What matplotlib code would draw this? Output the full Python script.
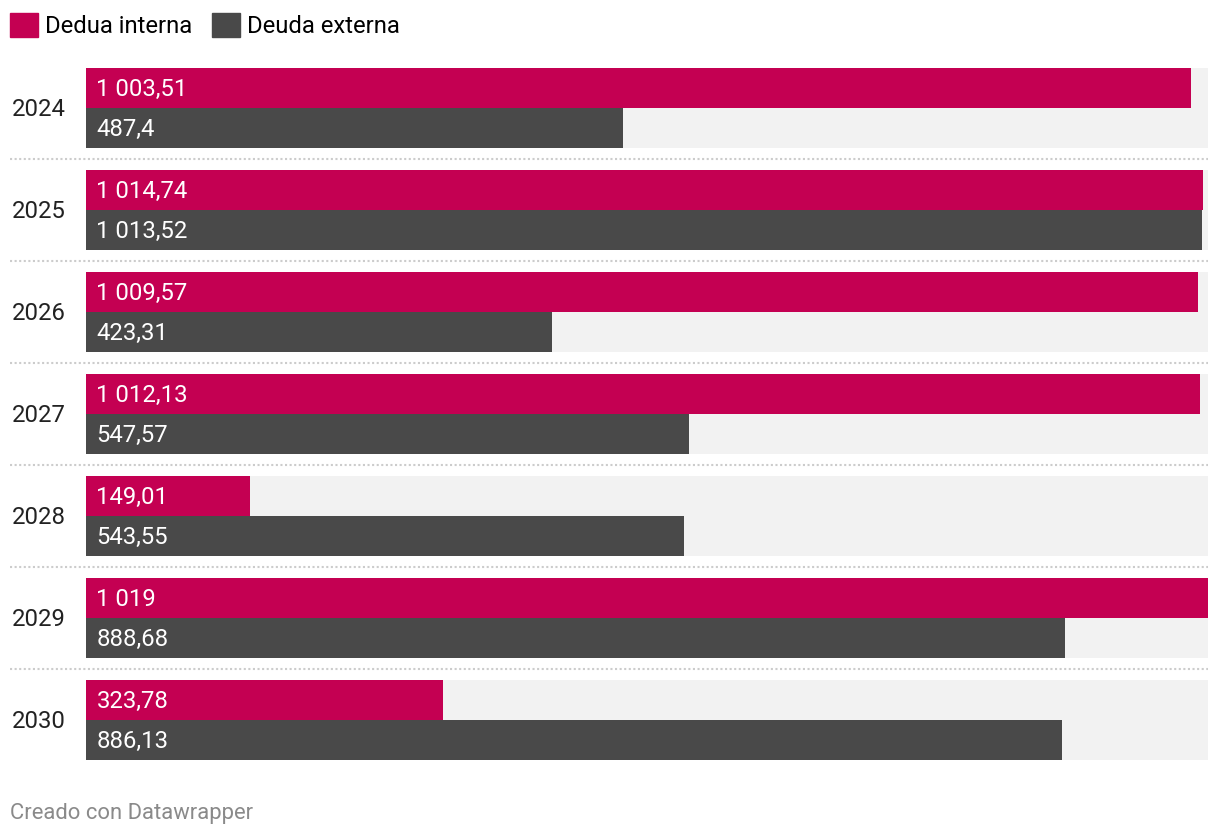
import matplotlib.pyplot as plt
from matplotlib.patches import Patch
import matplotlib.transforms as mtransforms

plt.rcParams['font.family'] = ['Roboto', 'DejaVu Sans']

years = ['2024', '2025', '2026', '2027', '2028', '2029', '2030']
interna = [1003.51, 1014.74, 1009.57, 1012.13, 149.01, 1019, 323.78]
externa = [487.4, 1013.52, 423.31, 547.57, 543.55, 888.68, 886.13]
labels = ['Dedua interna', 'Deuda externa']

pink = '#c40052'
dark = '#494949'
W, H = 1220, 838
fs = 17.2


def fmt(v):
    s = f"{v:,.2f}"
    if s.endswith('.00'):
        s = s[:-3]
    elif s.endswith('0'):
        s = s[:-1]
    return s.replace(',', ' ').replace('.', ',')


fig = plt.figure(figsize=(W / 100, H / 100), dpi=100)
# axes in pixel layout: x 86..1208, y 57..771
ax = fig.add_axes([86 / W, 1 - 771 / H, (1208 - 86) / W, (771 - 57) / H])
vmax = max(interna + externa)
ax.set_xlim(0, vmax)
ax.set_ylim(len(years) - 0.5, -0.5)
ax.axis('off')

off = 20 / 102
h = 40 / 102
dy = 1.5 / 102  # nudge text down a bit
for i, yr in enumerate(years):
    ax.barh([i - off, i + off], [vmax, vmax], height=h, color='#f2f2f2', zorder=1)
    ax.barh(i - off, interna[i], height=h, color=pink, zorder=2)
    ax.barh(i + off, externa[i], height=h, color=dark, zorder=2)
    ax.text(9.5, i - off + dy, fmt(interna[i]), color='white', fontsize=fs, va='center', ha='left', zorder=3)
    ax.text(9.5, i + off + dy, fmt(externa[i]), color='white', fontsize=fs, va='center', ha='left', zorder=3)

trans = mtransforms.blended_transform_factory(ax.transAxes, ax.transData)
x0 = (12 - 86) / (1208 - 86)
for i, yr in enumerate(years):
    ax.text(x0, i + dy, yr, transform=trans, fontsize=fs, color='#222222', va='center', ha='left')

xs = (10 - 86) / (1208 - 86)
for i in range(len(years) - 1):
    ax.plot([xs, 1], [i + 0.5, i + 0.5], transform=trans, color='#cccccc',
            lw=1.5, ls=(0, (1, 1.2)), clip_on=False)

handles = [Patch(color=pink), Patch(color=dark)]
fig.legend(handles, labels, loc='upper left', bbox_to_anchor=(10 / W, 1 - 13 / H),
           ncol=2, frameon=False, fontsize=fs, handlelength=1.17, handleheight=1.17,
           handletextpad=0.29, columnspacing=0.84, borderpad=0, borderaxespad=0)

fig.text(10 / W, 1 - 813 / H, 'Creado con Datawrapper', fontsize=15.8, color='#8a8a8a',
         va='center', ha='left')

fig.savefig('out.png', dpi=100, facecolor='white')
